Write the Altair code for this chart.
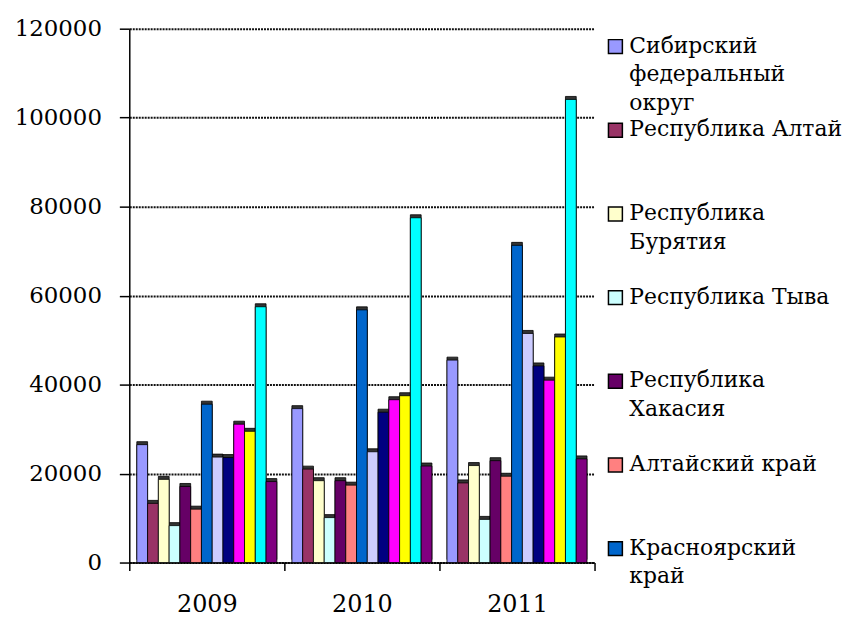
import altair as alt
import pandas as pd

years = ["2009", "2010", "2011"]
regions = [
    "Сибирский федеральный округ",
    "Республика Алтай",
    "Республика Бурятия",
    "Республика Тыва",
    "Республика Хакасия",
    "Алтайский край",
    "Красноярский край",
    "Иркутская область",
    "Кемеровская область",
    "Новосибирская область",
    "Омская область",
    "Томская область",
    "Забайкальский край",
]
colors = ["#9999FF", "#993366", "#FFFFCC", "#CCFFFF", "#660066", "#FF8080",
          "#0066CC", "#CCCCFF", "#000080", "#FF00FF", "#FFFF00", "#00FFFF", "#800080"]
v2009 = [26500, 13300, 18700, 8300, 17100, 12000, 35600, 23700, 23600, 31100, 29500, 57500, 18200]
v2010 = [34600, 21000, 18400, 10100, 18400, 17400, 56800, 24900, 33800, 36600, 37500, 77500, 21700]
v2011 = [45500, 17900, 21800, 9700, 22900, 19400, 71300, 51500, 44200, 41000, 50700, 104100, 23300]
legend_labels = [
    "Сибирский\nфедеральный\nокруг",
    "Республика Алтай",
    "Республика\nБурятия",
    "Республика Тыва",
    "Республика\nХакасия",
    "Алтайский край",
    "Красноярский\nкрай",
]
y_ticks = [0, 20000, 40000, 60000, 80000, 100000, 120000]

rows = []
for yr, vals in zip(years, [v2009, v2010, v2011]):
    for r, v in zip(regions, vals):
        rows.append({"year": yr, "region": r, "value": v})
df = pd.DataFrame(rows)

leg = pd.DataFrame({
    "region": regions[:len(legend_labels)],
    "label": legend_labels,
    "idx": list(range(len(legend_labels))),
})

FONT = "DejaVu Serif"

color_scale = alt.Scale(domain=regions, range=colors)

x_enc = alt.X("year:N", sort=years,
              scale=alt.Scale(paddingInner=0, paddingOuter=0),
              axis=alt.Axis(title=None, labelAngle=0, tickBand="extent", tickSize=8,
                            labelPadding=22, labelFontSize=24, labelFont=FONT,
                            labelColor="black", domainColor="black", tickColor="black",
                            domainWidth=1.5, tickWidth=1.5))
xo_enc = alt.XOffset("region:N", sort=regions,
                     scale=alt.Scale(domain=regions, paddingInner=0, paddingOuter=0.7))
y_enc = alt.Y("value:Q", scale=alt.Scale(domain=[0, 120000], nice=False),
              axis=alt.Axis(title=None, values=y_ticks, format="d", tickSize=10,
                            labelPadding=18, labelFontSize=23, labelFont=FONT,
                            labelColor="black", domainColor="black", tickColor="black",
                            domainWidth=1.5, tickWidth=1.5,
                            grid=True, gridColor="#111", gridWidth=2, gridDash=[2, 1]))

shadow = alt.Chart(df).mark_bar(color="#333", xOffset=3, x2Offset=3, yOffset=-3,
                                stroke="black", strokeWidth=0.8).encode(
    x=x_enc, xOffset=xo_enc, y=y_enc)
front = alt.Chart(df).mark_bar(stroke="black", strokeWidth=0.8).encode(
    x=x_enc, xOffset=xo_enc, y=y_enc,
    color=alt.Color("region:N", scale=color_scale, legend=None))
bars = alt.layer(shadow, front)

leg_y = alt.Y("idx:Q", axis=None,
              scale=alt.Scale(domain=[0, len(legend_labels) - 1], range=[18, 523],
                              nice=False, zero=False))
leg_sq = alt.Chart(leg).mark_square(size=196, stroke="black", strokeWidth=1.5, opacity=1).encode(
    x=alt.value(489), y=leg_y,
    color=alt.Color("region:N", scale=color_scale, legend=None))
leg_tx = alt.Chart(leg).mark_text(align="left", baseline="top", dy=-11, fontSize=22,
                                  lineHeight=29, font=FONT, lineBreak="\n",
                                  color="black").encode(
    x=alt.value(503), y=leg_y, text="label:N")
legend = alt.layer(leg_sq, leg_tx)

chart = alt.layer(bars, legend).resolve_scale(y="independent").properties(
    width=468, height=537,
    autosize=alt.AutoSizeParams(type="none"),
    padding={"left": 122, "top": 19, "right": 262, "bottom": 58},
    background="white",
).configure_view(stroke=None)

chart.save("out.html", embed_options={"renderer": "svg", "actions": False})
